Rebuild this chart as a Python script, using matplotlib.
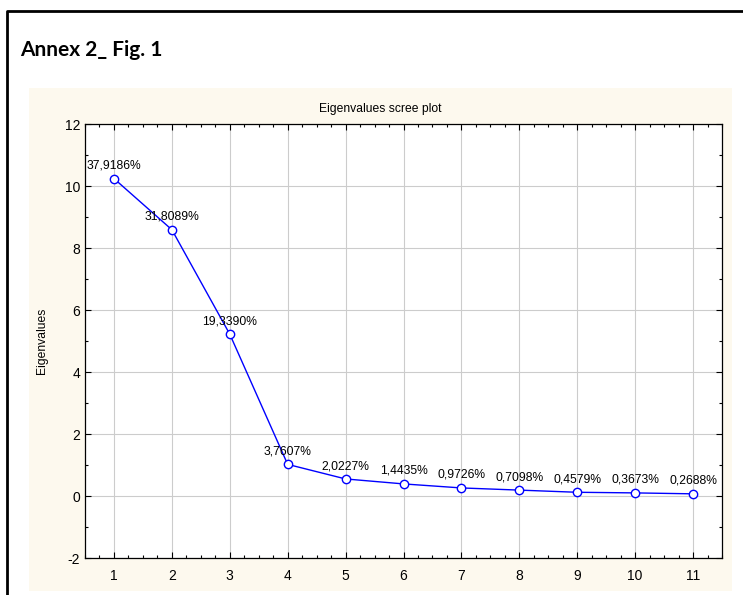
import matplotlib.pyplot as plt
from matplotlib.patches import Rectangle
from matplotlib.lines import Line2D
from matplotlib.ticker import MultipleLocator

plt.rcParams['axes.unicode_minus'] = False

# eigenvalues
components = [1, 2, 3, 4, 5, 6, 7, 8, 9, 10, 11]
eigenvalues = [10.24, 8.59, 5.22, 1.02, 0.55, 0.39, 0.26, 0.19, 0.12, 0.10, 0.07]
pct_labels = ['37,9186%', '31,8089%', '19,3390%', '3,7607%', '2,0227%', '1,4435%',
              '0,9726%', '0,7098%', '0,4579%', '0,3673%', '0,2688%']

W, H = 743, 595
fig = plt.figure(figsize=(W / 100, H / 100), dpi=100)
fig.patch.set_facecolor('white')

# outer frame: only left and top edges show
fig.add_artist(Line2D([7.5 / W, 7.5 / W, 1.0], [0.0, 1 - 10.5 / H, 1 - 10.5 / H],
                      transform=fig.transFigure, color='black', linewidth=2))
# beige panel behind the plot
fig.add_artist(Rectangle((29 / W, 1 - 591 / H), 703 / W, (591 - 88) / H, transform=fig.transFigure,
                         facecolor='#fdf9ee', edgecolor='none', zorder=0))

fig.text(20 / W, 1 - 50 / H, 'Annex 2_ Fig. 1', fontsize=15, fontweight='bold',
         family='Lato', va='center', ha='left')
fig.text(380 / W, 1 - 109 / H, 'Eigenvalues scree plot', fontsize=8.7,
         family='Liberation Sans', ha='center', va='center')

ax = fig.add_axes([85 / W, 1 - 558 / H, (722 - 85) / W, (558 - 124) / H])
ax.set_facecolor('white')
ax.plot(components, eigenvalues, color='#0000ff', linewidth=1, marker='o', markersize=6,
        markerfacecolor='white', markeredgecolor='#0000ff', markeredgewidth=1, zorder=3)
for x, y, lab in zip(components, eigenvalues, pct_labels):
    ax.annotate(lab, (x, y), xytext=(0, 5), textcoords='offset points', ha='center',
                va='bottom', fontsize=8.7, family='Liberation Sans', zorder=4)

ax.set_xlim(0.5, 11.5)
ax.set_ylim(-2, 12)
ax.set_xticks(components)
ax.set_yticks(range(-2, 13, 2))
ax.xaxis.set_minor_locator(MultipleLocator(0.25))
ax.yaxis.set_minor_locator(MultipleLocator(1))
ax.tick_params(which='both', direction='in', top=True, right=True, labelsize=10)
ax.tick_params(which='major', length=4, width=0.8)
ax.tick_params(which='minor', length=2.5, width=0.8)
ax.tick_params(axis='x', pad=8)
for lab in ax.get_xticklabels() + ax.get_yticklabels():
    lab.set_family('Liberation Sans')
ax.grid(True, which='major', color='#cccccc', linewidth=0.8)
ax.set_axisbelow(True)
for s in ax.spines.values():
    s.set_linewidth(0.9)
ax.set_ylabel('Eigenvalues', fontsize=8.7, family='Liberation Sans', labelpad=12)

fig.savefig('out.png', dpi=100)
